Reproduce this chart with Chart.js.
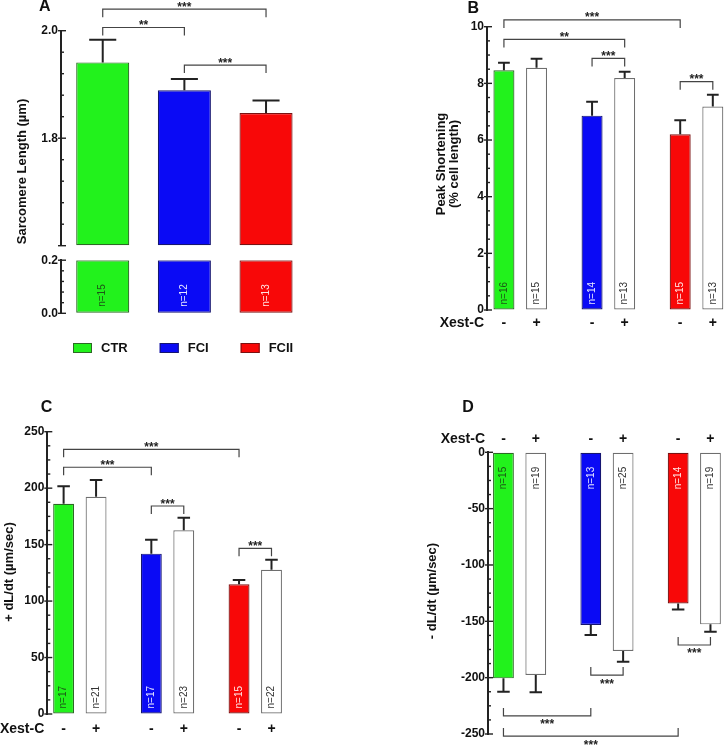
<!DOCTYPE html>
<html>
<head>
<meta charset="utf-8">
<script src="https://cdn.jsdelivr.net/npm/chart.js@4.4.1/dist/chart.umd.min.js"></script>
<style>
  body { margin: 0; background: #fff; }
  #fig { position: relative; width: 724px; height: 745px; overflow: hidden; }
  #fig canvas { position: absolute; }
</style>
</head>
<body>
<div id="fig">
  <canvas id="aTop" width="362" height="256" style="left:0;top:0"></canvas>
  <canvas id="aBot" width="362" height="115" style="left:0;top:250px"></canvas>
  <canvas id="chB" width="362" height="340" style="left:362px;top:0"></canvas>
  <canvas id="chC" width="362" height="375" style="left:0;top:370px"></canvas>
  <canvas id="chD" width="362" height="375" style="left:362px;top:370px"></canvas>
</div>
<script>
const FONT = '"Liberation Sans", Arial, sans-serif';

const groups = ['CTR', 'FCI', 'FCII'];
const groupColors = ['#22f21c', '#0a0af5', '#f80808'];
const groupBorders = ['#2c6a24', '#161670', '#7a1212'];
const nTextColors = ['#1d5516', '#e6e6ff', '#ffe2e2'];
const xestSigns = ['-', '+'];

// A: sarcomere length (um)
const sarcLen = [1.941, 1.889, 1.847];
const sarcSem = [0.042, 0.021, 0.023];
const sarcN = [15, 12, 13];
const sarcTopTicks = ['1.8', '2.0'];
const sarcBotTicks = ['0.0', '0.2'];

// B: peak shortening (% cell length), Xest-C - / +
const shortMinus = [8.46, 6.86, 6.20];
const shortPlus = [8.55, 8.19, 7.18];
const shortSemMinus = [0.27, 0.49, 0.50];
const shortSemPlus = [0.32, 0.22, 0.42];
const shortNMinus = [16, 14, 15];
const shortNPlus = [15, 13, 13];
const shortTicks = ['0', '2', '4', '6', '8', '10'];

// C: +dL/dt (um/sec)
const riseMinus = [186.2, 142.0, 114.8];
const risePlus = [192.4, 162.7, 127.8];
const riseSemMinus = [15.4, 12.4, 3.9];
const riseSemPlus = [14.8, 11.2, 8.8];
const riseNMinus = [17, 17, 15];
const riseNPlus = [21, 23, 22];
const riseTicks = ['0', '50', '100', '150', '200', '250'];

// D: -dL/dt (um/sec)
const fallMinus = [-200.6, -153.3, -134.1];
const fallPlus = [-197.7, -176.4, -152.7];
const fallSemMinus = [11.9, 8.9, 5.3];
const fallSemPlus = [15.3, 9.4, 6.5];
const fallNMinus = [15, 13, 14];
const fallNPlus = [19, 25, 19];
const fallTicks = ['0', '-50', '-100', '-150', '-200', '-250'];

function txt(ctx, s, x, y, size, o = {}) {
  ctx.save();
  ctx.font = `${o.weight || 'bold'} ${size}px ${FONT}`;
  ctx.fillStyle = o.color || '#111';
  ctx.textAlign = o.align || 'center';
  ctx.textBaseline = o.base || 'alphabetic';
  ctx.translate(x, y);
  if (o.rot) ctx.rotate(o.rot);
  ctx.fillText(s, 0, 0);
  ctx.restore();
}

const isMajor = (v, step) => {
  const r = v / step;
  return Math.abs(r - Math.round(r)) < 1e-6;
};

// tick marks, error bars, n labels, brackets, titles
const decor = {
  id: 'decor',
  afterDraw(chart, args, o) {
    const ctx = chart.ctx;
    const ys = chart.scales.y;
    const ax = chart.chartArea.left;
    ctx.save();
    ctx.strokeStyle = '#222';
    ctx.lineWidth = 1.4;
    ys.ticks.forEach(t => {
      const py = ys.getPixelForValue(t.value);
      const major = isMajor(t.value, o.majorStep);
      ctx.beginPath();
      ctx.moveTo(major ? ax - 3 : ax, py);
      ctx.lineTo(ax + (major ? 5 : 3), py);
      ctx.stroke();
    });

    (o.errors || []).forEach((sem, d) => {
      const meta = chart.getDatasetMeta(d);
      ctx.strokeStyle = '#222';
      ctx.lineWidth = 2;
      meta.data.forEach((bar, i) => {
        const v = chart.data.datasets[d].data[i].y;
        const ye = ys.getPixelForValue(v + (v < 0 ? -1 : 1) * sem[i]);
        const cw = bar.width * o.cap / 2;
        ctx.beginPath();
        ctx.moveTo(bar.x, bar.y);
        ctx.lineTo(bar.x, ye);
        ctx.moveTo(bar.x - cw, ye);
        ctx.lineTo(bar.x + cw, ye);
        ctx.stroke();
      });
    });

    (o.n || []).forEach((ns, d) => {
      const meta = chart.getDatasetMeta(d);
      meta.data.forEach((bar, i) => {
        const v = chart.data.datasets[d].data[i].y;
        const neg = v < 0;
        txt(ctx, 'n=' + ns[i], bar.x, neg ? bar.base + o.nOff : bar.base - o.nOff, 10, {
          weight: 'normal', rot: -Math.PI / 2, base: 'middle',
          align: neg ? 'right' : 'left', color: d === 0 ? nTextColors[i] : '#333'
        });
      });
    });

    (o.brackets || []).forEach(b => {
      const p1 = chart.getDatasetMeta(b.a[0]).data[b.a[1]];
      const p2 = chart.getDatasetMeta(b.b[0]).data[b.b[1]];
      const py = ys.getPixelForValue(b.at);
      const dir = b.at < 0 ? -1 : 1;
      ctx.strokeStyle = '#444';
      ctx.lineWidth = 1.2;
      ctx.beginPath();
      ctx.moveTo(p1.x, py + dir * 8);
      ctx.lineTo(p1.x, py);
      ctx.lineTo(p2.x, py);
      ctx.lineTo(p2.x, py + dir * 8);
      ctx.stroke();
      txt(ctx, b.t || '***', (p1.x + p2.x) / 2, dir > 0 ? py + 1.5 : py + 12.5, 12, { color: '#222' });
    });

    if (o.xest) {
      txt(ctx, 'Xest-C', ax - 3, o.xest, 14, { align: 'right', base: 'middle' });
      chart.data.datasets.forEach((ds, d) => {
        chart.getDatasetMeta(d).data.forEach(bar => {
          txt(ctx, xestSigns[d], bar.x, o.xest, 14, { base: 'middle' });
        });
      });
    }

    if (o.letter) txt(ctx, o.letter.t, o.letter.x, o.letter.y, 16);
    if (o.ytitle) {
      o.ytitle.lines.forEach((s, k) => {
        txt(ctx, s, o.ytitle.x[k], o.ytitle.y, 13, { rot: -Math.PI / 2, base: 'middle' });
      });
    }

    if (o.legend) {
      let x = o.legend.x;
      const y = o.legend.y;
      ctx.font = `bold 13px ${FONT}`;
      groups.forEach((g, i) => {
        ctx.fillStyle = groupColors[i];
        ctx.fillRect(x, y - 5, 19, 10);
        ctx.strokeStyle = groupBorders[i];
        ctx.lineWidth = 1;
        ctx.strokeRect(x + 0.5, y - 4.5, 18, 9);
        txt(ctx, g, x + 28, y, 13, { align: 'left', base: 'middle' });
        ctx.font = `bold 13px ${FONT}`;
        x += 28 + ctx.measureText(g).width + 32;
      });
    }
    ctx.restore();
  }
};

function makeChart(id, c) {
  return new Chart(document.getElementById(id), {
    type: 'bar',
    data: { datasets: c.datasets },
    options: {
      responsive: false,
      animation: false,
      devicePixelRatio: 1,
      layout: { padding: c.padding },
      datasets: { bar: { categoryPercentage: c.catPct, barPercentage: c.barPct, borderSkipped: false, borderWidth: 1.2 } },
      plugins: { legend: { display: false }, tooltip: { enabled: false }, decor: c.decor },
      scales: {
        x: {
          type: 'linear', display: false, offset: false, min: c.xMin, max: c.xMax,
          afterBuildTicks: s => { s.ticks = groups.map((g, i) => ({ value: i })); }
        },
        y: {
          min: c.yMin, max: c.yMax,
          afterFit: s => { s.width = c.yWidth; },
          grid: { drawOnChartArea: false, drawTicks: false },
          border: { display: true, color: '#222', width: 2 },
          ticks: {
            stepSize: c.step, autoSkip: false, padding: 3, color: '#111',
            font: { family: FONT, size: 12, weight: 'bold' },
            callback: v => {
              if (!isMajor(v, c.decor.majorStep)) return '';
              const s = c.fmt(v);
              return c.tickLabels.includes(s) ? s : '';
            }
          }
        }
      }
    },
    plugins: [decor]
  });
}

const pts = arr => arr.map((v, i) => ({ x: i, y: v }));
const pairSets = (minus, plus) => [
  { data: pts(minus), backgroundColor: groupColors, borderColor: groupBorders },
  { data: pts(plus), backgroundColor: '#ffffff', borderColor: '#6e6e6e' }
];

// A, upper part of the broken axis
makeChart('aTop', {
  datasets: [{ data: pts(sarcLen), base: 1.6, backgroundColor: groupColors, borderColor: groupBorders }],
  padding: { top: 30.7, bottom: 10.3, left: 0, right: 62 }, yWidth: 61,
  xMin: -0.511, xMax: 2.416, catPct: 1, barPct: 0.65,
  yMin: 1.6, yMax: 2.0, step: 0.04, fmt: v => v.toFixed(1), tickLabels: sarcTopTicks,
  decor: {
    majorStep: 0.2, cap: 0.51, errors: [sarcSem],
    brackets: [
      { a: [0, 0], b: [0, 2], at: 2.040 },
      { a: [0, 0], b: [0, 1], at: 2.006, t: '**' },
      { a: [0, 1], b: [0, 2], at: 1.936 }
    ],
    letter: { t: 'A', x: 44.7, y: 11 },
    ytitle: { lines: ['Sarcomere Length (µm)'], x: [22], y: 171.5 }
  }
});

// A, lower part of the broken axis
makeChart('aBot', {
  datasets: [{ data: pts(sarcLen.map(v => Math.min(v, 0.2))), backgroundColor: groupColors, borderColor: groupBorders }],
  padding: { top: 10, bottom: 51.7, left: 0, right: 62 }, yWidth: 61,
  xMin: -0.511, xMax: 2.416, catPct: 1, barPct: 0.65,
  yMin: 0, yMax: 0.2, step: 0.04, fmt: v => v.toFixed(1), tickLabels: sarcBotTicks,
  decor: { majorStep: 0.2, n: [sarcN], nOff: 6, legend: { x: 73, y: 98 } }
});

makeChart('chB', {
  datasets: pairSets(shortMinus, shortPlus),
  padding: { top: 26.7, bottom: 30, left: 0, right: 0 }, yWidth: 125,
  xMin: -0.377, xMax: 2.312, catPct: 0.74, barPct: 0.644,
  yMin: 0, yMax: 10, step: 0.5, fmt: v => String(v), tickLabels: shortTicks,
  decor: {
    majorStep: 2, cap: 0.56, errors: [shortSemMinus, shortSemPlus],
    n: [shortNMinus, shortNPlus], nOff: 5, xest: 323,
    brackets: [
      { a: [0, 0], b: [0, 2], at: 10.24 },
      { a: [0, 0], b: [1, 1], at: 9.55, t: '**' },
      { a: [0, 1], b: [1, 1], at: 8.88 },
      { a: [0, 2], b: [1, 2], at: 8.06 }
    ],
    letter: { t: 'B', x: 111.3, y: 12.7 },
    ytitle: { lines: ['Peak Shortening', '(% cell length)'], x: [79.7, 92.5], y: 164 }
  }
});

makeChart('chC', {
  datasets: pairSets(riseMinus, risePlus),
  padding: { top: 61.7, bottom: 31, left: 0, right: 62 }, yWidth: 47.3,
  xMin: -0.371, xMax: 2.510, catPct: 0.74, barPct: 0.644,
  yMin: 0, yMax: 250, step: 12.5, fmt: v => String(v), tickLabels: riseTicks,
  decor: {
    majorStep: 50, cap: 0.6, errors: [riseSemMinus, riseSemPlus],
    n: [riseNMinus, riseNPlus], nOff: 5, xest: 359.3,
    brackets: [
      { a: [0, 0], b: [0, 2], at: 234.4 },
      { a: [0, 0], b: [0, 1], at: 218.5 },
      { a: [0, 1], b: [1, 1], at: 184.2 },
      { a: [0, 2], b: [1, 2], at: 146.7 }
    ],
    letter: { t: 'C', x: 46.5, y: 41.7 },
    ytitle: { lines: ['+ dL/dt (µm/sec)'], x: [9], y: 202 }
  }
});

makeChart('chD', {
  datasets: pairSets(fallMinus, fallPlus),
  padding: { top: 82.3, bottom: 11, left: 0, right: 0 }, yWidth: 126,
  xMin: -0.362, xMax: 2.340, catPct: 0.74, barPct: 0.644,
  yMin: -250, yMax: 0, step: 12.5, fmt: v => String(v), tickLabels: fallTicks,
  decor: {
    majorStep: 50, cap: 0.6, errors: [fallSemMinus, fallSemPlus],
    n: [fallNMinus, fallNPlus], nOff: 14, xest: 69,
    brackets: [
      { a: [0, 0], b: [0, 1], at: -234.0 },
      { a: [0, 0], b: [0, 2], at: -251.8 },
      { a: [0, 1], b: [1, 1], at: -197.7 },
      { a: [0, 2], b: [1, 2], at: -171.0 }
    ],
    letter: { t: 'D', x: 106, y: 41.7 },
    ytitle: { lines: ['- dL/dt (µm/sec)'], x: [70.5], y: 221 }
  }
});
</script>
</body>
</html>
